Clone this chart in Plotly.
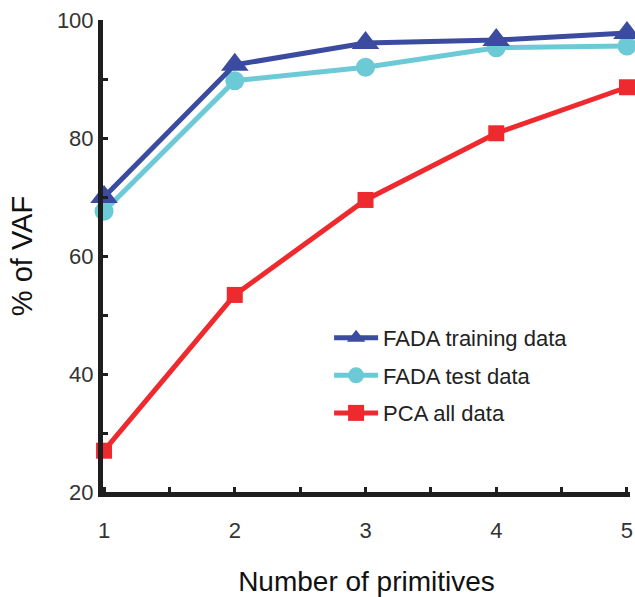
import plotly.graph_objects as go

primitives = [1, 2, 3, 4, 5]
fada_train = [70.0, 92.4, 96.1, 96.6, 97.8]
fada_test = [67.6, 89.7, 92.0, 95.3, 95.6]
pca_all = [27.0, 53.4, 69.5, 80.8, 88.6]

c_train = "#3B4BA0"
c_test = "#6CCAD6"
c_pca = "#EE2A2E"
axis_col = "#1E1E1E"
font_fam = "Liberation Sans, Arial, sans-serif"

fig = go.Figure()
fig.add_trace(go.Scatter(x=primitives, y=fada_test, name="FADA test data", mode="lines+markers",
                         line=dict(color=c_test, width=5),
                         marker=dict(symbol="circle", size=19, color=c_test),
                         cliponaxis=False, legendrank=2, legendgroup="b"))
fig.add_trace(go.Scatter(x=primitives, y=fada_train, name="FADA training data", mode="lines+markers",
                         line=dict(color=c_train, width=5),
                         marker=dict(symbol="triangle-up", size=24, color=c_train),
                         cliponaxis=False, legendrank=1, legendgroup="a"))
fig.add_trace(go.Scatter(x=primitives, y=pca_all, name="PCA all data", mode="lines+markers",
                         line=dict(color=c_pca, width=5),
                         marker=dict(symbol="square", size=16, color=c_pca),
                         cliponaxis=False, legendrank=3, legendgroup="c"))

fig.update_layout(
    width=635, height=597,
    margin=dict(l=103, r=5, t=20, b=105),
    paper_bgcolor="white", plot_bgcolor="white",
    font=dict(family=font_fam, color="#333333", size=22),
    showlegend=True,
    legend=dict(x=0.429, y=0.371, xanchor="left", yanchor="top",
                font=dict(size=22, color="#222222"), bgcolor="rgba(0,0,0,0)",
                tracegroupgap=6, itemwidth=44),
)
fig.update_xaxes(range=[0.992, 5.023], showgrid=False, zeroline=False, automargin=False,
                 showline=True, linewidth=5, linecolor=axis_col,
                 tick0=1, dtick=1, ticks="inside", ticklen=5, tickwidth=3, tickcolor=axis_col,
                 minor=dict(dtick=0.5, tick0=1, ticks="inside", ticklen=5, tickwidth=3, tickcolor=axis_col),
                 ticklabelstandoff=15,
                 tickfont=dict(size=22, color="#333333"),
                 title=dict(text="Number of primitives", font=dict(size=28, color="#111111"), standoff=39))
fig.update_yaxes(range=[20, 100], showgrid=False, zeroline=False, automargin=False,
                 showline=True, linewidth=5, linecolor=axis_col,
                 tick0=20, dtick=20, ticks="inside", ticklen=5, tickwidth=3, tickcolor=axis_col,
                 minor=dict(dtick=10, tick0=20, ticks="inside", ticklen=5, tickwidth=3, tickcolor=axis_col),
                 ticklabelstandoff=0,
                 tickfont=dict(size=22, color="#333333"),
                 title=dict(text="% of VAF", font=dict(size=29, color="#111111"), standoff=17))

fig.write_html("out.html", config={"displayModeBar": False},
               post_script="document.body.style.margin='0px';")
